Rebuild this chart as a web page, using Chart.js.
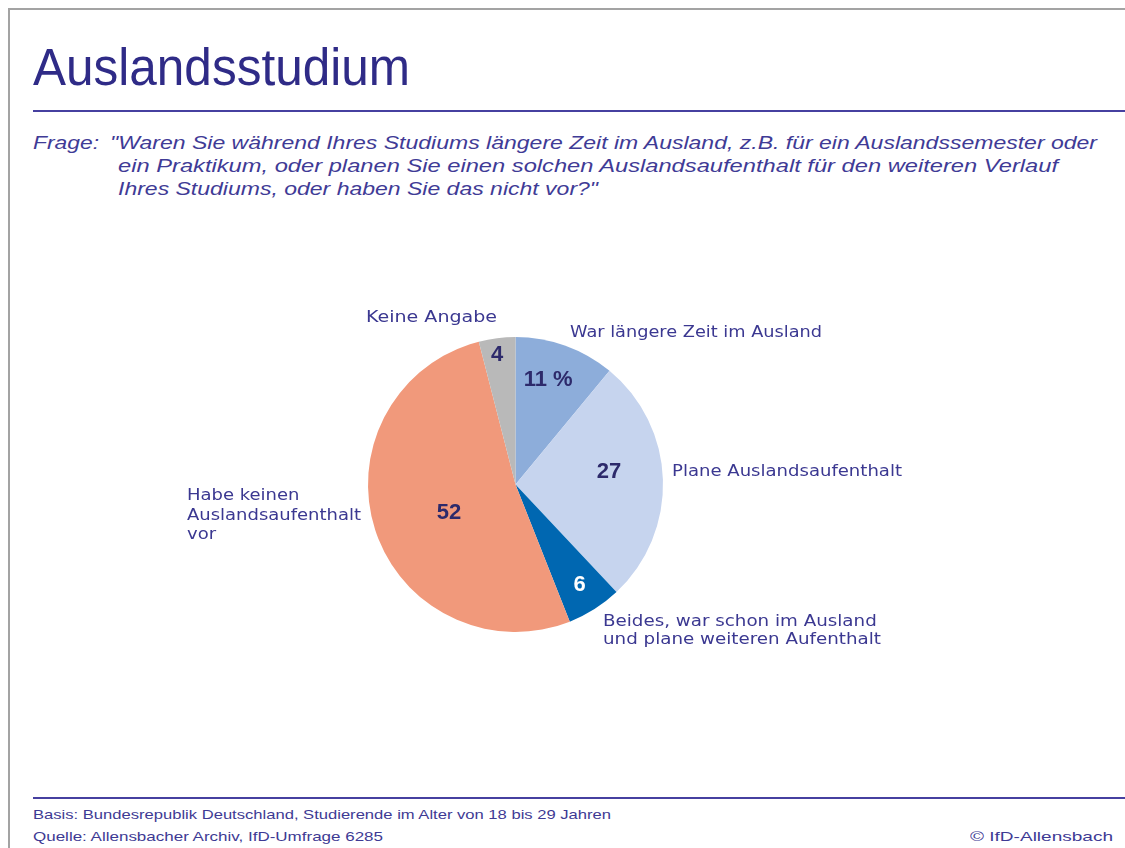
<!DOCTYPE html>
<html><head><meta charset="utf-8">
<script src="https://cdn.jsdelivr.net/npm/chart.js@4/dist/chart.umd.min.js"></script>
<style>
html,body{margin:0;padding:0;background:#fff;width:1125px;height:848px;overflow:hidden;}
#frame{position:absolute;left:8px;top:8px;width:1200px;height:900px;border-left:2px solid #a3a3a3;border-top:2px solid #a3a3a3;}
.t{position:absolute;white-space:nowrap;transform-origin:0 0;}
#title{left:33px;top:42px;font:51px/51px "Liberation Sans",sans-serif;color:#2f2b87;}
.q{font:italic 19px/19px "Liberation Sans",sans-serif;color:#3f3b96;}
.f{font:13px/13px "Liberation Sans",sans-serif;color:#3e3a94;}
.rule{position:absolute;left:33px;width:1092px;height:2px;background:#4640a0;}
#wrap{position:absolute;left:0;top:234px;width:1031px;height:501px;}
</style></head><body>
<div id="frame"></div>
<div class="t" id="title" data-w="377">Auslandsstudium</div>
<div class="rule" style="top:110px"></div>
<div class="t q" style="left:33px;top:133px" data-w="66">Frage:</div>
<div class="t q" style="left:110px;top:133px" data-w="987">"Waren Sie während Ihres Studiums längere Zeit im Ausland, z.B. für ein Auslandssemester oder</div>
<div class="t q" style="left:118px;top:156px" data-w="940">ein Praktikum, oder planen Sie einen solchen Auslandsaufenthalt für den weiteren Verlauf</div>
<div class="t q" style="left:118px;top:179px" data-w="480">Ihres Studiums, oder haben Sie das nicht vor?"</div>
<div id="wrap"><canvas id="c"></canvas></div>
<div class="rule" style="top:797px"></div>
<div class="t f" style="left:33px;top:808px" data-w="578">Basis: Bundesrepublik Deutschland, Studierende im Alter von 18 bis 29 Jahren</div>
<div class="t f" style="left:33px;top:830px" data-w="350">Quelle: Allensbacher Archiv, IfD-Umfrage 6285</div>
<div class="t f" style="left:970px;top:830px" data-w="143">© IfD-Allensbach</div>
<script>
// ---- data ----
const categories = ["War längere Zeit im Ausland", "Plane Auslandsaufenthalt", "Beides, war schon im Ausland und plane weiteren Aufenthalt", "Habe keinen Auslandsaufenthalt vor", "Keine Angabe"];
const values = [11, 27, 6, 52, 4];
const valueLabels = ["11 %", "27", "6", "52", "4"];
const labelLines = [
  ["War längere Zeit im Ausland"],
  ["Plane Auslandsaufenthalt"],
  ["Beides, war schon im Ausland", "und plane weiteren Aufenthalt"],
  ["Habe keinen", "Auslandsaufenthalt", "vor"],
  ["Keine Angabe"]
];
// ---- styles ----
const colors = ["#8dadda", "#c6d4ee", "#0067b1", "#f1997b", "#b9b9b9"];
const valueColors = ["#2d2a6b", "#2d2a6b", "#ffffff", "#2d2a6b", "#2d2a6b"];
const valueRadius = [0.74, 0.64, 0.81, 0.49, 0.89];
const valueAngleShift = [-2.4, -5.8, 0, -5.2, -0.9]; // degrees
// label offsets from pie centre: [dx of left edge, dy of first line centre, line gap, target width of widest line]
const labelPos = [
  [54.5, -151.5, 18, 252],
  [156.5, -12.5, 18, 230],
  [87.5, 137.5, 18, 278],
  [-328.5, 11.5, 19.5, 174],
  [-149.5, -166.5, 18, 131]
];

const labelPlugin = {
  id: 'labels',
  afterDatasetsDraw(chart) {
    const ctx = chart.ctx;
    const meta = chart.getDatasetMeta(0);
    meta.data.forEach((arc, i) => {
      const p = arc.getProps(['x', 'y', 'startAngle', 'endAngle', 'outerRadius'], true);
      const mid = (p.startAngle + p.endAngle) / 2 + valueAngleShift[i] * Math.PI / 180;
      const r = p.outerRadius * valueRadius[i];
      ctx.save();
      ctx.font = 'bold 22px "Liberation Sans", sans-serif';
      ctx.fillStyle = valueColors[i];
      ctx.textAlign = 'center';
      ctx.textBaseline = 'middle';
      ctx.fillText(valueLabels[i], p.x + Math.cos(mid) * r, p.y + Math.sin(mid) * r);
      ctx.restore();
      // outside category label
      const lp = labelPos[i];
      ctx.save();
      ctx.font = '16px "DejaVu Sans", sans-serif';
      ctx.fillStyle = '#3b3891';
      ctx.textAlign = 'left';
      ctx.textBaseline = 'middle';
      let maxW = 0;
      labelLines[i].forEach(l => { maxW = Math.max(maxW, ctx.measureText(l).width); });
      const s = lp[3] / maxW;
      ctx.translate(p.x + lp[0], p.y + lp[1]);
      ctx.scale(s, 1);
      labelLines[i].forEach((l, k) => ctx.fillText(l, 0, k * lp[2]));
      ctx.restore();
    });
  }
};

function fit() {
  document.querySelectorAll('[data-w]').forEach(el => {
    el.style.transform = 'none';
    const w = el.getBoundingClientRect().width;
    el.style.transform = 'scaleX(' + (parseFloat(el.dataset.w) / w) + ')';
  });
}

function draw() {
  fit();
  new Chart(document.getElementById('c'), {
    type: 'pie',
    data: { labels: categories, datasets: [{ data: values, backgroundColor: colors, borderWidth: 0 }] },
    options: {
      responsive: true,
      maintainAspectRatio: false,
      animation: false,
      radius: 147.5,
      layout: { padding: 0 },
      plugins: { legend: { display: false }, tooltip: { enabled: false } }
    },
    plugins: [labelPlugin]
  });
}
if (document.fonts && document.fonts.ready) document.fonts.ready.then(draw); else draw();
</script>
</body></html>
